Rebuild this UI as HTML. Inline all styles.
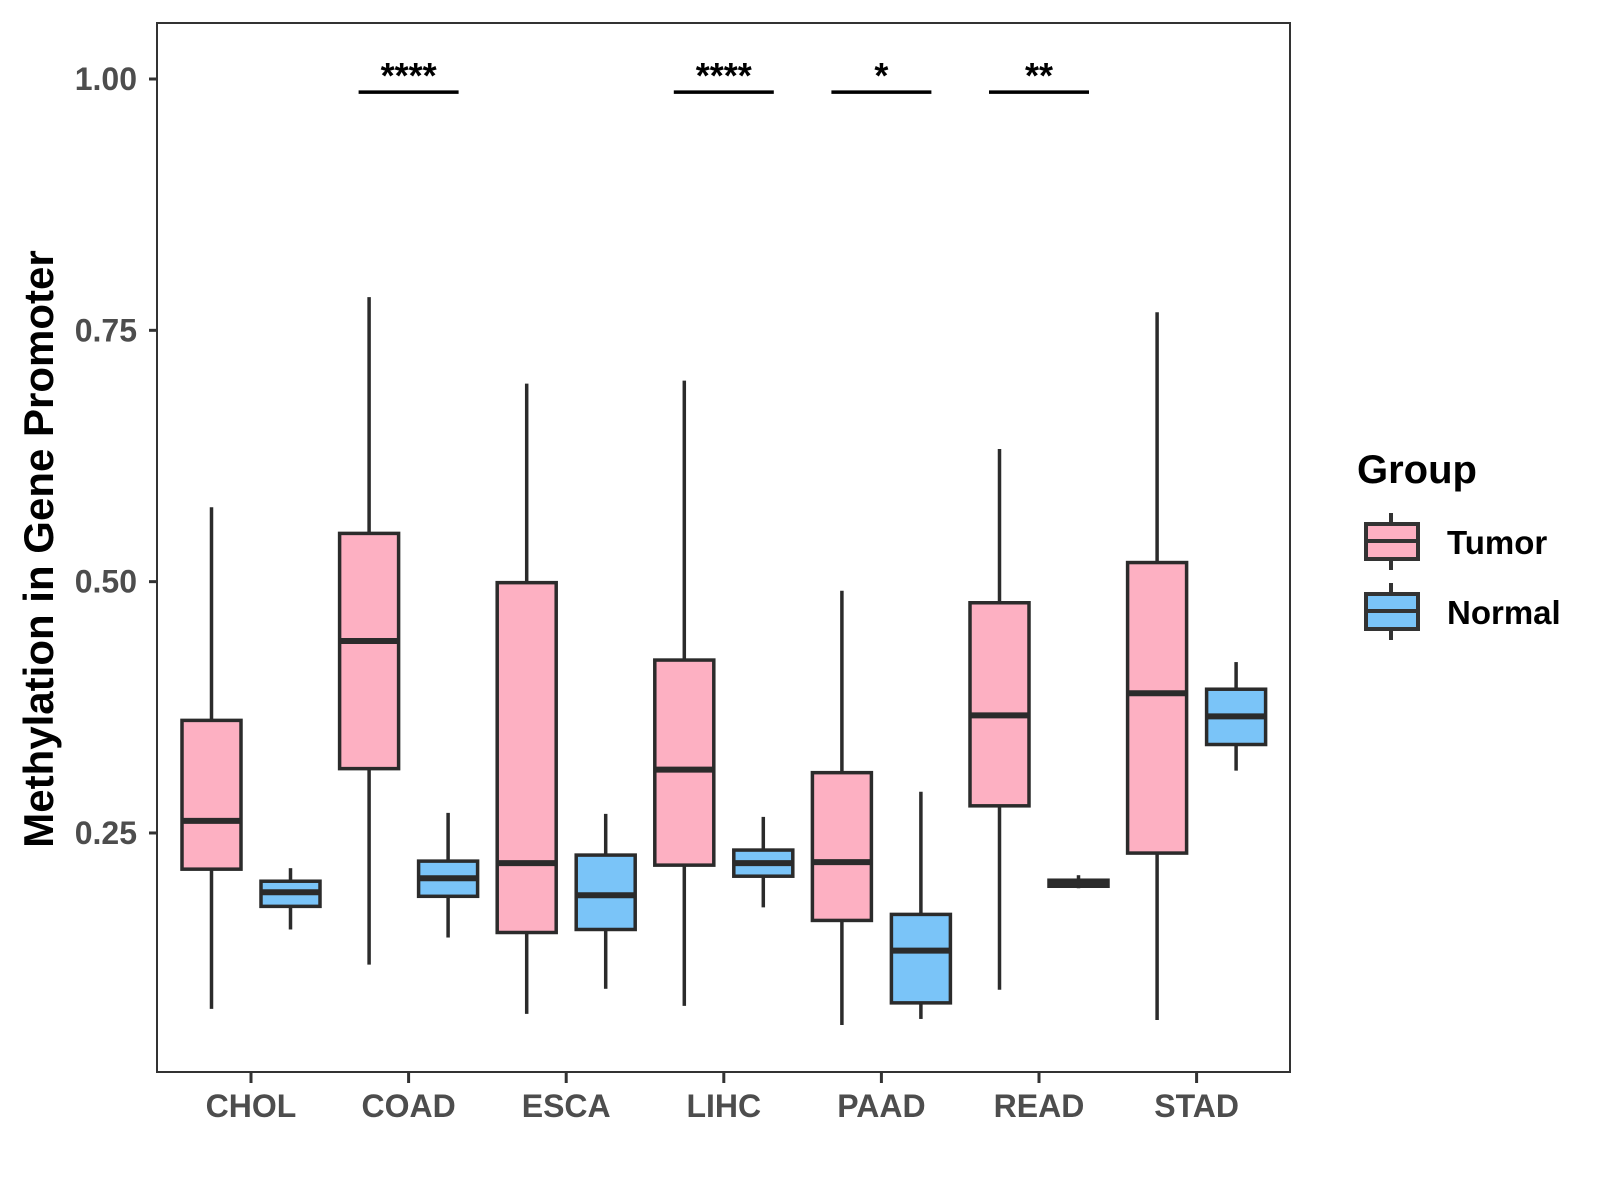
<!DOCTYPE html>
<html><head><meta charset="utf-8"><style>
html,body{margin:0;padding:0;background:#fff;}
svg{display:block;font-family:"Liberation Sans",Arial,sans-serif;}
</style></head><body>
<svg id="chart" width="1600" height="1200" viewBox="0 0 1600 1200">
<rect x="0" y="0" width="1600" height="1200" fill="#fff"/>
<g id="plot"></g>
<rect x="157" y="23" width="1133" height="1049" fill="none" stroke="#333" stroke-width="2"/>
<text transform="translate(53,549) rotate(-90)" text-anchor="middle" font-size="42" font-weight="bold" fill="#000">Methylation in Gene Promoter</text>
<g>
<text x="1357" y="483" font-size="40" font-weight="bold" fill="#000">Group</text>
<g>
<line x1="1391" y1="513" x2="1391" y2="570" stroke="#333" stroke-width="4"/>
<rect x="1366" y="524" width="52" height="35" fill="#FDB0C2" stroke="#333" stroke-width="4"/>
<line x1="1366" y1="541" x2="1418" y2="541" stroke="#333" stroke-width="4"/>
<text x="1447" y="554" font-size="33" font-weight="bold" fill="#000">Tumor</text>
</g>
<g>
<line x1="1391" y1="583" x2="1391" y2="640" stroke="#333" stroke-width="4"/>
<rect x="1366" y="594" width="52" height="35" fill="#7AC4F8" stroke="#333" stroke-width="4"/>
<line x1="1366" y1="611" x2="1418" y2="611" stroke="#333" stroke-width="4"/>
<text x="1447" y="624" font-size="33" font-weight="bold" fill="#000">Normal</text>
</g>
</g>
</svg>
<script>
const categories = ["CHOL","COAD","ESCA","LIHC","PAAD","READ","STAD"];
// [low, q1, median, q3, high]
const tumorStats = [
 [0.075,0.214,0.262,0.362,0.574],
 [0.119,0.314,0.441,0.548,0.783],
 [0.070,0.151,0.220,0.499,0.697],
 [0.078,0.218,0.313,0.422,0.700],
 [0.059,0.163,0.221,0.310,0.491],
 [0.094,0.277,0.367,0.479,0.632],
 [0.064,0.230,0.389,0.519,0.768]
];
const normalStats = [
 [0.154,0.177,0.191,0.202,0.215],
 [0.146,0.187,0.205,0.222,0.270],
 [0.095,0.154,0.188,0.228,0.269],
 [0.176,0.207,0.220,0.233,0.266],
 [0.065,0.081,0.133,0.169,0.291],
 [0.195,0.197,0.200,0.203,0.208],
 [0.312,0.338,0.366,0.393,0.420]
];
const yTicks = [0.25,0.50,0.75,1.00];
const yTickLabels = ["0.25","0.50","0.75","1.00"];
const sigLabels = ["","****","","****","*","**",""];
const sigLevel = 0.987;

const NS = "http://www.w3.org/2000/svg";
const g = document.getElementById("plot");
function y(v){ return 79 + (1 - v) * 1005.3; }
function x(i){ return 251 + i * 157.6; }
function el(tag, attrs, parent){
  const e = document.createElementNS(NS, tag);
  for (const k in attrs) e.setAttribute(k, attrs[k]);
  (parent || g).appendChild(e);
  return e;
}
yTicks.forEach((t, i) => {
  const tk = el("line", {x1:149, x2:157, y1:y(t), y2:y(t), stroke:"#333", "stroke-width":3});
  
  
  const lb = el("text", {x:137, y:y(t)+11, "text-anchor":"end", "font-size":32, "font-weight":"bold", fill:"#4d4d4d"});
  lb.textContent = yTickLabels[i];
  
  
});
categories.forEach((c, i) => {
  const tk = el("line", {x1:x(i), x2:x(i), y1:1072, y2:1083, stroke:"#333", "stroke-width":3});
  
  
  const lb = el("text", {x:x(i), y:1117, "text-anchor":"middle", "font-size":32, "font-weight":"bold", fill:"#4d4d4d"});
  lb.textContent = c;
  
  
});
function box(cx, s, fill, name){
  const grp = el("g", {});
  
  
  const w = 59;
  el("line", {x1:cx, x2:cx, y1:y(s[4]), y2:y(s[3]), stroke:"#2b2b2b", "stroke-width":3.5}, grp);
  el("line", {x1:cx, x2:cx, y1:y(s[1]), y2:y(s[0]), stroke:"#2b2b2b", "stroke-width":3.5}, grp);
  el("rect", {x:cx-w/2, y:y(s[3]), width:w, height:Math.max(1, y(s[1])-y(s[3])), fill:fill, stroke:"#2b2b2b", "stroke-width":3.5}, grp);
  el("line", {x1:cx-w/2, x2:cx+w/2, y1:y(s[2]), y2:y(s[2]), stroke:"#2b2b2b", "stroke-width":6}, grp);
}
categories.forEach((c, i) => {
  box(x(i)-39.5, tumorStats[i], "#FDB0C2", "box-tumor-" + c.toLowerCase());
  box(x(i)+39.5, normalStats[i], "#7AC4F8", "box-normal-" + c.toLowerCase());
  if (sigLabels[i]) {
    const ln = el("line", {x1:x(i)-50, x2:x(i)+50, y1:y(sigLevel), y2:y(sigLevel), stroke:"#000", "stroke-width":3.5});
    
    
    const t = el("text", {x:x(i), y:y(sigLevel)-4, "text-anchor":"middle", "font-size":36, "font-weight":"bold", fill:"#000"});
    t.textContent = sigLabels[i];
    
    
  }
});
</script>
</body></html>
